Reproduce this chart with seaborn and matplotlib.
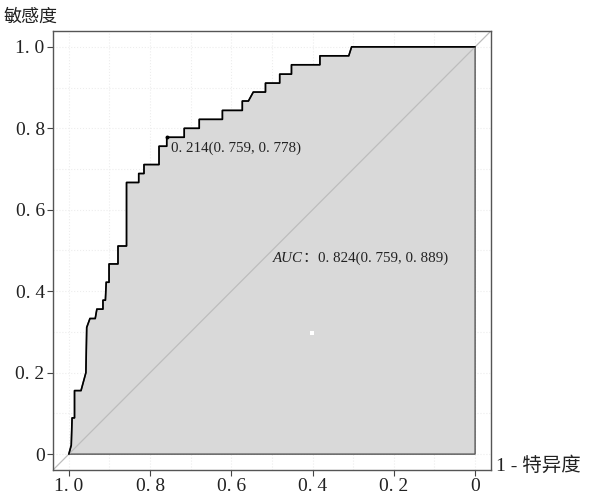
import matplotlib
matplotlib.use("Agg")
import matplotlib.pyplot as plt
import seaborn as sns
import pandas as pd
from matplotlib.patches import Polygon
from matplotlib.ticker import MultipleLocator

# ROC curve vertices (specificity, sensitivity)
specificity = [1.000, 0.994, 0.992, 0.986, 0.986, 0.970, 0.958, 0.956, 0.948, 0.935,
               0.931, 0.916, 0.916, 0.910, 0.908, 0.901, 0.901, 0.879, 0.879, 0.858,
               0.858, 0.828, 0.828, 0.815, 0.815, 0.778, 0.778, 0.759, 0.759, 0.716,
               0.716, 0.679, 0.679, 0.622, 0.622, 0.573, 0.573, 0.558, 0.546, 0.516,
               0.516, 0.481, 0.481, 0.452, 0.452, 0.382, 0.382, 0.311, 0.304, 0.000]
sensitivity = [0.000, 0.022, 0.089, 0.089, 0.156, 0.156, 0.200, 0.311, 0.333, 0.333,
               0.356, 0.356, 0.378, 0.378, 0.422, 0.422, 0.467, 0.467, 0.511, 0.511,
               0.667, 0.667, 0.689, 0.689, 0.711, 0.711, 0.756, 0.756, 0.778, 0.778,
               0.800, 0.800, 0.822, 0.822, 0.844, 0.844, 0.867, 0.867, 0.889, 0.889,
               0.911, 0.911, 0.933, 0.933, 0.956, 0.956, 0.978, 0.978, 1.000, 1.000]

best_spec = [0.759]
best_sens = [0.778]
best_label = "0. 214(0. 759, 0. 778)"
auc_name = "AUC"
auc_value = "：0. 824(0. 759, 0. 889)"
auc_pos = [0.498, 0.48]
white_spec = [0.401]
white_sens = [0.297]

tick_vals = [1.0, 0.8, 0.6, 0.4, 0.2, 0.0]
x_tick_labels = ["1. 0", "0. 8", "0. 6", "0. 4", "0. 2", "0"]
y_tick_vals = [0.0, 0.2, 0.4, 0.6, 0.8, 1.0]
y_tick_labels = ["0", "0. 2", "0. 4", "0. 6", "0. 8", "1. 0"]

sns.set_theme(style="white")
plt.rcParams["font.family"] = ["Liberation Serif", "Noto Sans CJK SC", "DejaVu Sans"]

fig = plt.figure(figsize=(5.98, 4.98), dpi=100)
ax = fig.add_axes([0.0886, 0.0562, 0.7324, 0.8816])

df = pd.DataFrame({"spec": specificity, "sens": sensitivity})

# faint dotted grid
ax.xaxis.set_minor_locator(MultipleLocator(0.1))
ax.yaxis.set_minor_locator(MultipleLocator(0.1))
ax.grid(True, which="both", color="#ededed", linestyle=":", linewidth=0.8)
ax.set_axisbelow(True)

# AUC polygon
poly_pts = list(zip(specificity, sensitivity)) + [(0.0, 0.0), (1.0, 0.0)]
ax.add_patch(Polygon(poly_pts, closed=True, facecolor="#d9d9d9",
                     edgecolor="#555555", linewidth=1.0, zorder=1))

# diagonal
ax.axline((1.0, 0.0), (0.0, 1.0), color="#bdbdbd", linewidth=0.9, zorder=2)

# ROC curve
sns.lineplot(data=df, x="spec", y="sens", sort=False, estimator=None,
             color="black", linewidth=1.2, ax=ax, zorder=3)

# best threshold point
sns.scatterplot(x=best_spec, y=best_sens, color="black", s=8, ax=ax,
                zorder=4, linewidth=0)
ax.annotate(best_label, (best_spec[0], best_sens[0]), xytext=(3, -3),
            textcoords="offset points", ha="left", va="top",
            fontsize=10.8, color="#222222", zorder=5)

t1 = ax.text(auc_pos[0], auc_pos[1], auc_name, ha="left", va="center",
             fontsize=10.8, color="#222222", style="italic", zorder=5)
ax.annotate(auc_value, xy=(1.0, 0.5), xycoords=t1, ha="left", va="center",
            fontsize=10.8, color="#222222", zorder=5,
            family=["Liberation Serif", "Noto Sans CJK SC"])

# small white marker
sns.scatterplot(x=white_spec, y=white_sens, color="white", marker="s", s=12,
                linewidth=0, ax=ax, zorder=4)

ax.set_xlim(1.039, -0.039)
ax.set_ylim(-0.039, 1.039)
ax.set_xticks(tick_vals)
ax.set_xticklabels(x_tick_labels)
ax.set_yticks(y_tick_vals)
ax.set_yticklabels(y_tick_labels)
ax.tick_params(axis="both", which="major", length=4, width=0.8, color="#444444",
               labelsize=14, labelcolor="#222222", pad=2, bottom=True, left=True)
ax.tick_params(axis="both", which="minor", length=0)

for s in ax.spines.values():
    s.set_color("#555555")
    s.set_linewidth(1.0)
    s.set_visible(True)

ax.set_xlabel("1 - 特异度", fontsize=14, color="#222222")
ax.xaxis.set_label_coords(1.012, 0.009)
ax.xaxis.label.set_ha("left")
ax.xaxis.label.set_va("center")
ax.set_ylabel("敏感度", fontsize=13, color="#222222", rotation=0)
ax.yaxis.set_label_coords(-0.114, 1.032)
ax.yaxis.label.set_ha("left")
ax.yaxis.label.set_va("center")

fig.savefig("out.png", dpi=100, facecolor="white")
